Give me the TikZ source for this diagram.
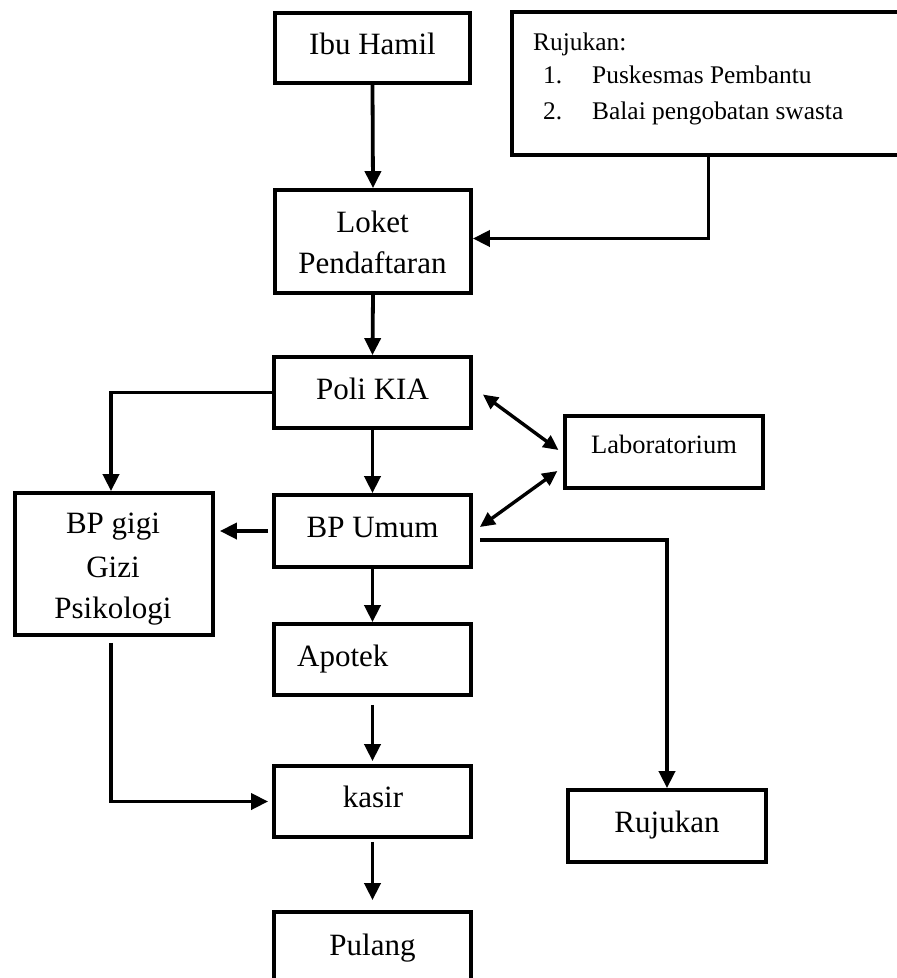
\documentclass[tikz,border=0pt]{standalone}
\usepackage{fontspec}
\setmainfont{Liberation Serif}
\usetikzlibrary{arrows.meta,fit,calc}
\begin{document}
\begin{tikzpicture}[x=1pt,y=-1pt,
  box/.style={draw, line width=3.8pt, inner sep=0pt},
  conn/.style={line width=3.8pt, -{Triangle[length=17pt,width=16pt]}},
  both/.style={line width=3.4pt, {Triangle[length=15pt,width=14pt]}-{Triangle[length=15pt,width=14pt]}},
  big/.style={font=\fontsize{31}{37}\selectfont, inner sep=0pt, anchor=base},
  mid/.style={font=\fontsize{26.5}{32}\selectfont, inner sep=0pt, anchor=base},
  small/.style={font=\fontsize{25.4}{30}\selectfont, inner sep=0pt, anchor=base west},
]
\clip (0,0) rectangle (897,978);
\fill[white] (0,0) rectangle (897,978);

% boxes
\node[box, fit={(275,13) (470,83)}]   (ibu) {};
\node[box, fit={(512,12) (905,155)}]  (rujA) {};
\node[box, fit={(275,190) (471,293)}] (loket) {};
\node[box, fit={(274,357) (471,428)}] (poli) {};
\node[box, fit={(274,495) (471,567)}] (bpumum) {};
\node[box, fit={(274,624) (471,695)}] (apotek) {};
\node[box, fit={(274,766) (471,837)}] (kasir) {};
\node[box, fit={(274,912) (471,1000)}] (pulang) {};
\node[box, fit={(15,493) (213,635)}]  (bpgigi) {};
\node[box, line width=3.2pt, fit={(565,416) (763,488)}] (lab) {};
\node[box, fit={(568,790) (766,862)}] (rujB) {};

% texts
\node[big] (tIbu) at (372.5,54) {Ibu Hamil};
\node[big] (tLoket1) at (372.5,232) {Loket};
\node[big] (tLoket2) at (372.5,273) {Pendaftaran};
\node[big] (tPoli) at (372.5,399) {Poli KIA};
\node[big] (tUmum) at (372.5,537) {BP Umum};
\node[big, anchor=base west] (tApotek) at (297,666) {Apotek};
\node[big] (tKasir) at (373,807) {kasir};
\node[big] (tPulang) at (372.5,955) {Pulang};
\node[big] (tGigi1) at (113,533) {BP gigi};
\node[big] (tGigi2) at (113,577) {Gizi};
\node[big] (tGigi3) at (113,618) {Psikologi};
\node[mid] (tLab) at (664,453) {Laboratorium};
\node[big] (tRujB) at (667,832) {Rujukan};
\node[small] (tRujA) at (533,50) {Rujukan:};
\node[small] (tNo1) at (543,83) {1.};
\node[small] (tIt1) at (592,83) {Puskesmas Pembantu};
\node[small] (tNo2) at (543,119) {2.};
\node[small] (tIt2) at (592,119) {Balai pengobatan swasta};

% connectors
\draw[conn] (ibu.south) -- (loket.north);
\draw[conn] (rujA.south) |- ($(loket.east)+(0,-3)$);
\draw[conn] (loket.south) -- (poli.north);
\draw[conn] (poli.west) -| ($(bpgigi.north)+(-3,0)$);
\draw[conn] (poli.south) -- (bpumum.north);
\draw[conn, shorten <=4pt, shorten >=5pt] (bpumum.west) -- (bpumum.west -| bpgigi.east);
\draw[conn] (bpumum.south) -- (apotek.north);
\draw[conn] ($(bpumum.east)+(7,9)$) -| (rujB.north);
\draw[both] ($(poli.east)+(10,2)$) -- ($(lab.west)+(-5,-2)$);
\draw[both] ($(bpumum.east)+(7,-4)$) -- ($(lab.west)+(-6,19)$);
\draw[conn, shorten <=8pt, shorten >=3pt] (apotek.south) -- (kasir.north);
\draw[conn, shorten <=6pt, shorten >=4pt] ($(bpgigi.south)+(-3,0)$) |- (kasir.west);
\draw[conn, shorten <=3pt, shorten >=10pt] (kasir.south) -- (pulang.north);
\end{tikzpicture}
\end{document}
